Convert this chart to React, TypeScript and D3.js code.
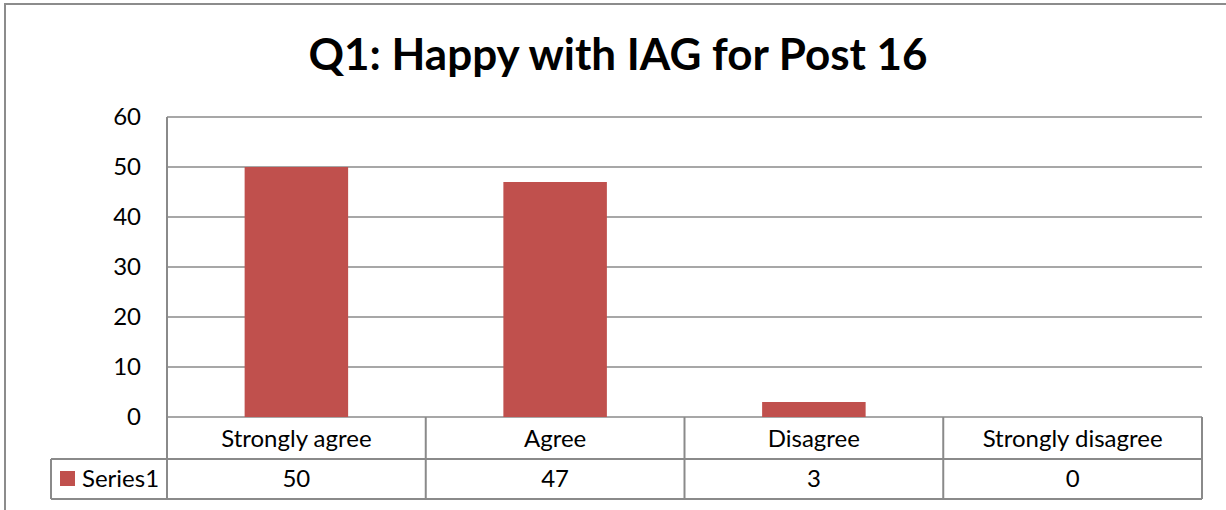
import { useEffect, useRef } from 'react';
import * as d3 from 'd3';

const categories = ['Strongly agree', 'Agree', 'Disagree', 'Strongly disagree'];
const series1 = [50, 47, 3, 0];
const yTicks = [0, 10, 20, 30, 40, 50, 60];
const seriesName = 'Series1';

export default function App() {
  const ref = useRef<SVGSVGElement | null>(null);

  useEffect(() => {
    if (!ref.current) return;
    const svg = d3.select(ref.current);
    svg.selectAll('*').remove();

    const W = 1226;
    const H = 510;
    const plot = { left: 167, right: 1202, top: 117, bottom: 417 };
    const row1 = 459;
    const row2 = 499;
    const legendLeft = 51;
    const grid = '#8a8a8a';
    const barColor = '#C0504D';
    const font = 'Lato, "Open Sans", sans-serif';
    const fs = 24;

    svg.append('rect').attr('width', W).attr('height', H).attr('fill', '#fff');

    // outer chart border
    svg.append('path')
      .attr('d', `M5,${H + 5} L5,4 L${W + 5},4`)
      .attr('fill', 'none')
      .attr('stroke', '#8c8c8c')
      .attr('stroke-width', 2);

    // Title
    svg.append('text')
      .attr('x', 618)
      .attr('y', 70)
      .attr('text-anchor', 'middle')
      .attr('font-family', font)
      .attr('font-weight', 700)
      .attr('font-size', 44)
      .attr('fill', '#000')
      .text('Q1: Happy with IAG for Post 16');

    const x = d3.scaleBand<string>()
      .domain(categories)
      .range([plot.left, plot.right])
      .padding(0);

    const y = d3.scaleLinear()
      .domain([0, 60])
      .range([plot.bottom, plot.top]);

    // gridlines
    svg.selectAll('.grid')
      .data(yTicks)
      .enter()
      .append('line')
      .attr('x1', plot.left)
      .attr('x2', plot.right)
      .attr('y1', d => y(d))
      .attr('y2', d => y(d))
      .attr('stroke', grid)
      .attr('stroke-width', 1.5);

    // y labels
    svg.selectAll('.ylab')
      .data(yTicks)
      .enter()
      .append('text')
      .attr('x', 141)
      .attr('y', d => y(d) + 8)
      .attr('text-anchor', 'end')
      .attr('font-family', font)
      .attr('font-size', fs)
      .attr('fill', '#000')
      .text(d => String(d));

    // bars
    const barW = x.bandwidth() * 0.4;
    svg.selectAll('.bar')
      .data(series1)
      .enter()
      .append('rect')
      .attr('x', (d, i) => (x(categories[i]) as number) + (x.bandwidth() - barW) / 2)
      .attr('y', d => y(d))
      .attr('width', barW)
      .attr('height', d => y(0) - y(d))
      .attr('fill', barColor);

    // data table lines
    const lines: [number, number, number, number][] = [
      [plot.left, plot.top, plot.left, row2],
      [legendLeft, row1, plot.right, row1],
      [legendLeft, row2, plot.right, row2],
      [legendLeft, row1, legendLeft, row2],
      [plot.right, plot.bottom, plot.right, row2],
    ];
    categories.slice(1).forEach(c => {
      const xx = x(c) as number;
      lines.push([xx, plot.bottom, xx, row2]);
    });
    svg.selectAll('.tline')
      .data(lines)
      .enter()
      .append('line')
      .attr('x1', d => d[0])
      .attr('y1', d => d[1])
      .attr('x2', d => d[2])
      .attr('y2', d => d[3])
      .attr('stroke', grid)
      .attr('stroke-width', 2);

    // category labels
    svg.selectAll('.cat')
      .data(categories)
      .enter()
      .append('text')
      .attr('x', d => (x(d) as number) + x.bandwidth() / 2)
      .attr('y', 447)
      .attr('text-anchor', 'middle')
      .attr('font-family', font)
      .attr('font-size', fs)
      .attr('fill', '#000')
      .text(d => d);

    // values row
    svg.selectAll('.val')
      .data(series1)
      .enter()
      .append('text')
      .attr('x', (d, i) => (x(categories[i]) as number) + x.bandwidth() / 2)
      .attr('y', 487)
      .attr('text-anchor', 'middle')
      .attr('font-family', font)
      .attr('font-size', fs)
      .attr('fill', '#000')
      .text(d => String(d));

    // legend key
    svg.append('rect')
      .attr('x', 60)
      .attr('y', 471)
      .attr('width', 15)
      .attr('height', 15)
      .attr('fill', barColor);
    svg.append('text')
      .attr('x', 82)
      .attr('y', 487)
      .attr('font-family', font)
      .attr('font-size', fs)
      .attr('fill', '#000')
      .text(seriesName);
  }, []);

  return (
    <svg
      ref={ref}
      width={1226}
      height={510}
      style={{ position: 'absolute', left: 0, top: 0, display: 'block' }}
    />
  );
}
